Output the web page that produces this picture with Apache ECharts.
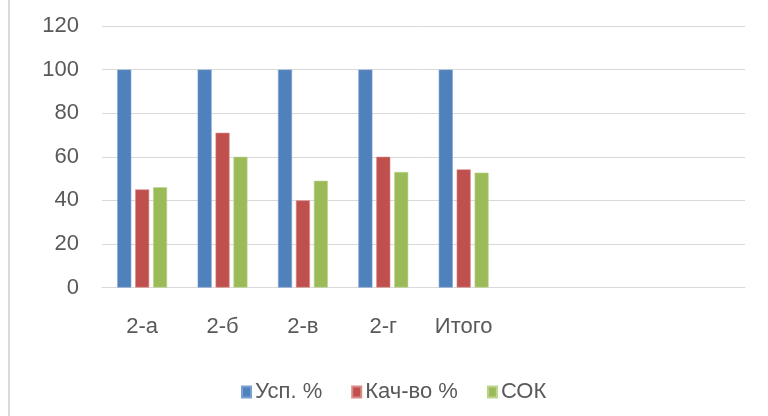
<!DOCTYPE html>
<html>
<head>
<meta charset="utf-8">
<script src="https://cdn.jsdelivr.net/npm/echarts@6/dist/echarts.min.js"></script>
<style>
html,body{margin:0;padding:0;background:#fff;}
#c{width:768px;height:416px;}
</style>
</head>
<body>
<div id="c"></div>
<script>
var categories = ['2-а', '2-б', '2-в', '2-г', 'Итого', '', '', ''];
var uspValues = [100, 100, 100, 100, 100];
var kachValues = [45, 71, 40, 60, 54.2];
var sokValues = [46, 60, 49, 53, 52.7];
var yTicks = [0, 20, 40, 60, 80, 100, 120];

var chart = echarts.init(document.getElementById('c'));
var font = 'Liberation Sans, Arial, sans-serif';
var txt = '#595959';
var option = {
  animation: false,
  backgroundColor: '#fff',
  textStyle: { fontFamily: font },
  graphic: [{ type: 'rect', left: 8, top: 0, shape: { width: 2, height: 416 }, style: { fill: '#d9d9d9' } }],
  grid: { left: 102, right: 23, top: 26, bottom: 128.5, containLabel: false },
  legend: {
    data: ['Усп. %', 'Кач-во %', 'СОК'],
    left: 236, top: 376,
    icon: 'rect', itemWidth: 9, itemHeight: 11, itemGap: 29,
    textStyle: { color: txt, fontSize: 22, fontFamily: font, padding: [0, 0, 0, -1] }
  },
  xAxis: {
    type: 'category', data: categories,
    axisLine: { lineStyle: { color: '#d9d9d9', width: 1 } },
    axisTick: { show: false },
    axisLabel: { color: txt, fontSize: 22, fontFamily: font, margin: 28, interval: 0 }
  },
  yAxis: {
    type: 'value', min: yTicks[0], max: yTicks[yTicks.length - 1], interval: 20,
    axisLine: { show: false }, axisTick: { show: false },
    splitLine: { lineStyle: { color: '#d9d9d9', width: 1 } },
    axisLabel: { color: txt, fontSize: 22, fontFamily: font, margin: 23 }
  },
  series: [
    { name: 'Усп. %', type: 'bar', data: uspValues, barWidth: 14, barGap: '28%',
      itemStyle: { color: '#4F81BD', borderColor: '#7aa0d0', borderWidth: 0.6 } },
    { name: 'Кач-во %', type: 'bar', data: kachValues, barWidth: 14, barGap: '28%',
      itemStyle: { color: '#C0504D', borderColor: '#d98a88', borderWidth: 0.6 } },
    { name: 'СОК', type: 'bar', data: sokValues, barWidth: 14, barGap: '28%',
      itemStyle: { color: '#9BBB59', borderColor: '#bdd48e', borderWidth: 0.6 } }
  ]
};
chart.setOption(option);
</script>
</body>
</html>
